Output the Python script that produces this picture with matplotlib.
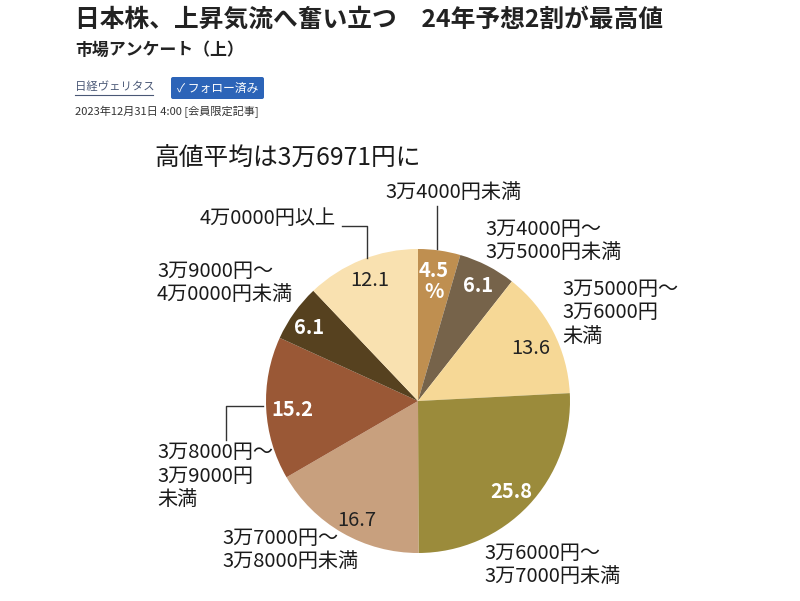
import matplotlib
matplotlib.use("Agg")
import matplotlib.pyplot as plt
from matplotlib.patches import FancyBboxPatch

plt.rcParams['font.family'] = ['Noto Sans CJK JP', 'DejaVu Sans']

# ---- data ----
categories = ["3万4000円未満", "3万4000円～3万5000円未満", "3万5000円～3万6000円未満",
              "3万6000円～3万7000円未満", "3万7000円～3万8000円未満", "3万8000円～3万9000円未満",
              "3万9000円～4万0000円未満", "4万0000円以上"]
values = [4.5, 6.1, 13.6, 25.8, 16.7, 15.2, 6.1, 12.1]
value_labels = ["4.5\n%", "6.1", "13.6", "25.8", "16.7", "15.2", "6.1", "12.1"]
colors = ["#BF8F50", "#76634A", "#F6D896", "#9B8B3B", "#C8A07E", "#9A5836", "#56411F", "#F9E1B0"]
label_colors = ["white", "white", "#222222", "white", "#222222", "white", "white", "#222222"]
label_bold = [True, True, False, True, False, True, True, False]

title = "日本株、上昇気流へ奮い立つ\u300024年予想2割が最高値"
subtitle = "市場アンケート（上）"
source = "日経ヴェリタス"
follow = "✓ フォロー済み"
dateline = "2023年12月31日 4:00 [会員限定記事]"
chart_title = "高値平均は3万6971円に"

W, H = 800, 601
fig = plt.figure(figsize=(W / 100, H / 100), dpi=100)
fig.patch.set_facecolor("white")

# pie axes (pixel box)
cx, cy, r = 418, 401, 152
axp = fig.add_axes([(cx - r) / W, (H - cy - r) / H, 2 * r / W, 2 * r / H])
axp.pie(values, colors=colors, startangle=90, counterclock=False, radius=1,
        wedgeprops=dict(linewidth=0))
axp.set_xlim(-1, 1)
axp.set_ylim(-1, 1)
axp.set_aspect("auto")
axp.axis("off")

# overlay in pixel coordinates
ax = fig.add_axes([0, 0, 1, 1])
ax.set_xlim(0, W)
ax.set_ylim(H, 0)
ax.axis("off")
ax.patch.set_alpha(0)

# header
ax.text(75, 20, title, fontsize=17.8, fontweight="bold", color="#222222", va="center", ha="left")
ax.text(75, 50, subtitle, fontsize=12.2, fontweight="bold", color="#222222", va="center", ha="left")
ax.text(75, 87, source, fontsize=8.2, color="#4a5876", va="center", ha="left")
ax.plot([75, 153], [95, 95], color="#4a5876", lw=0.8)
btn = FancyBboxPatch((171, 77), 93, 22, boxstyle="round,pad=0,rounding_size=2",
                     facecolor="#2C64B8", edgecolor="none")
ax.add_patch(btn)
ax.text(217.5, 88, follow, fontsize=8.5, color="white", va="center", ha="center")
ax.text(75, 112, dateline, fontsize=8.0, color="#333333", va="center", ha="left")

# chart title
ax.text(154, 158, chart_title, fontsize=17.8, color="#1a1a1a", va="center", ha="left")

# value labels inside pie
val_pos = [(434, 281), (478, 285), (531, 349), (511, 491), (357, 521), (292, 409), (309, 328), (370, 281)]
for (x, y), lab, c, b in zip(val_pos, value_labels, label_colors, label_bold):
    ax.text(x, y, lab, fontsize=14.5, color=c, fontweight="bold" if b else "normal",
            va="center", ha="center", linespacing=1.05, zorder=5)

# category labels
lab_fs = 14.5
line_c = "#333333"
txt_c = "#1a1a1a"
ax.text(453, 192, "3万4000円未満", fontsize=lab_fs, va="center", ha="center", color=txt_c)
ax.plot([437, 437], [206, 249], color=line_c, lw=1)

ax.text(336, 219, "4万0000円以上", fontsize=lab_fs, va="center", ha="right", color=txt_c)
ax.plot([342, 367, 367], [226, 226, 258], color=line_c, lw=1)

ax.text(485, 241, "3万4000円～\n3万5000円未満", fontsize=lab_fs, va="center", ha="left",
        color=txt_c, linespacing=1.15)
ax.text(562, 313, "3万5000円～\n3万6000円\n未満", fontsize=lab_fs, va="center", ha="left",
        color=txt_c, linespacing=1.15)
ax.text(157, 283, "3万9000円～\n4万0000円未満", fontsize=lab_fs, va="center", ha="left",
        color=txt_c, linespacing=1.15)
ax.text(157, 476, "3万8000円～\n3万9000円\n未満", fontsize=lab_fs, va="center", ha="left",
        color=txt_c, linespacing=1.15)
ax.plot([263, 226, 226], [406, 406, 440], color=line_c, lw=1)
ax.text(222, 550, "3万7000円～\n3万8000円未満", fontsize=lab_fs, va="center", ha="left",
        color=txt_c, linespacing=1.15)
ax.text(484, 565, "3万6000円～\n3万7000円未満", fontsize=lab_fs, va="center", ha="left",
        color=txt_c, linespacing=1.15)

fig.savefig("out.png", dpi=100, facecolor="white")
